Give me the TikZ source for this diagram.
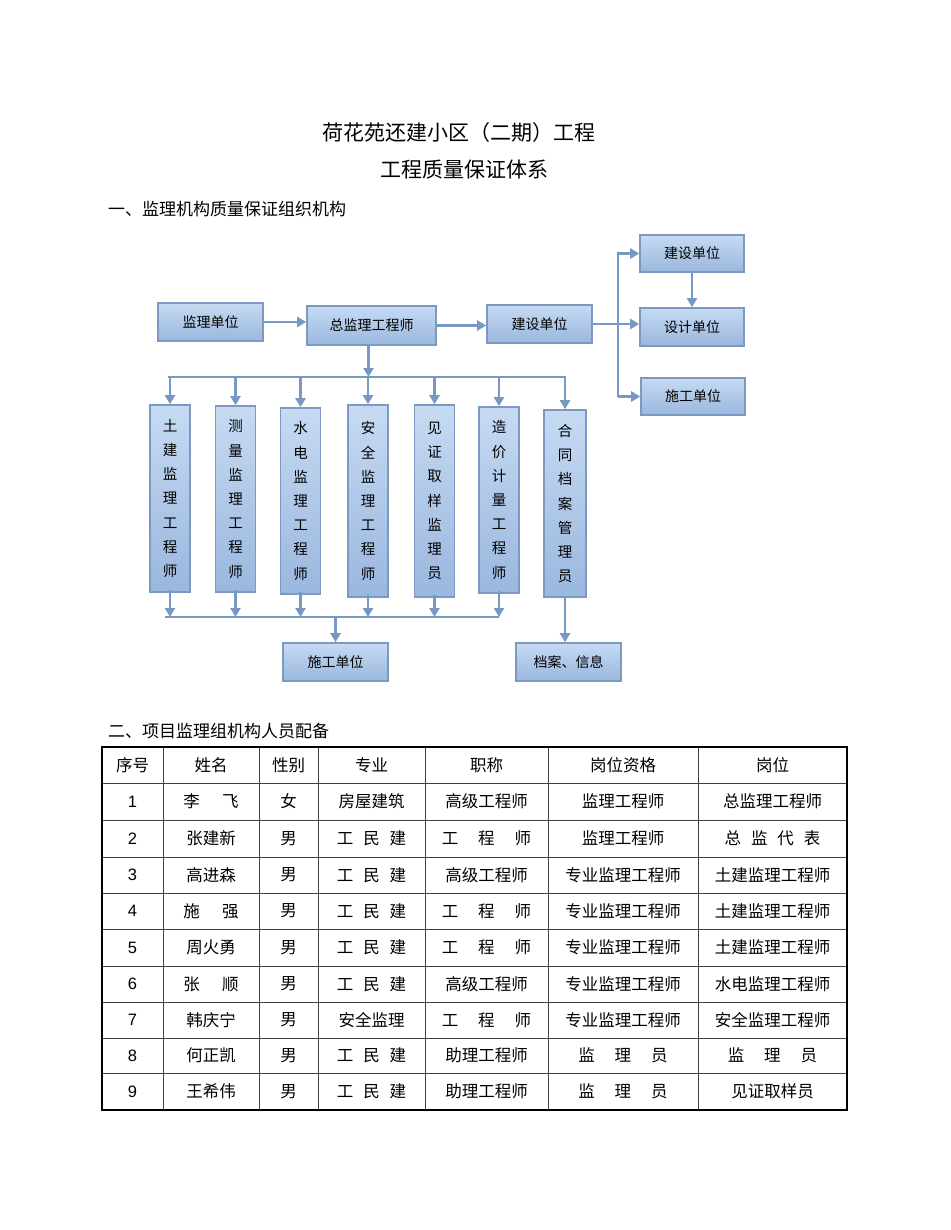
\documentclass[tikz,border=0pt]{standalone}
\usepackage{fontspec}
\setmainfont{Noto Sans CJK SC}
\newfontfamily\lsans{Liberation Sans}
\usetikzlibrary{arrows.meta}
\definecolor{lnc}{HTML}{7898C4}
\definecolor{bdc}{HTML}{7C99C2}
\definecolor{topc}{HTML}{C6DAF2}
\definecolor{botc}{HTML}{9AB7DE}
\tikzset{
  hbox/.style={draw=bdc, line width=1.6pt, top color=topc, bottom color=botc,
    font=\fontsize{14}{16}\selectfont, text=black, inner sep=0pt},
  vbox/.style={hbox, minimum width=40pt, align=center, font=\fontsize{14.5}{24.2}\selectfont},
  conn/.style={draw=lnc, line width=2.8pt},
  arr/.style={conn, -{Triangle[width=10pt,length=9pt]}},
  cell/.style={font=\fontsize{16.5}{18}\selectfont, inner sep=0pt},
  tline/.style={line width=1pt, draw=black!75},
}
\begin{document}
\begin{tikzpicture}[x=1pt,y=-1pt]
\useasboundingbox[fill=white] (0,0) rectangle (950,1230);
% titles
\node[font=\fontsize{21}{24}\selectfont] (t1) at (459,133) {荷花苑还建小区（二期）工程};
\node[font=\fontsize{21}{24}\selectfont] (t2) at (464,170) {工程质量保证体系};
\node[font=\fontsize{17}{20}\selectfont, anchor=west, inner sep=0pt] (h1) at (108,209) {一、监理机构质量保证组织机构};
\node[font=\fontsize{17}{20}\selectfont, anchor=west, inner sep=0pt] (h2) at (108,731) {二、项目监理组机构人员配备};

% horizontal boxes
\node[hbox, minimum width=105pt, minimum height=38pt] (jl) at (210.5,322) {监理单位};
\node[hbox, minimum width=129pt, minimum height=39pt] (zj) at (371.5,325.5) {总监理工程师};
\node[hbox, minimum width=105pt, minimum height=38pt] (js) at (539.5,324) {建设单位};
\node[hbox, minimum width=104pt, minimum height=37pt] (js2) at (692,253.5) {建设单位};
\node[hbox, minimum width=104pt, minimum height=38pt] (sj) at (692,327) {设计单位};
\node[hbox, minimum width=104pt, minimum height=37pt] (sg) at (693,396.5) {施工单位};
\node[hbox, minimum width=105pt, minimum height=38pt] (sg2) at (335.5,662) {施工单位};
\node[hbox, minimum width=105pt, minimum height=38pt] (da) at (568.5,662) {档案、信息};

% vertical boxes
\node[vbox, minimum height=187pt] (v1) at (170,498.5) {土\\建\\监\\理\\工\\程\\师};
\node[vbox, minimum height=186pt] (v2) at (235.5,499) {测\\量\\监\\理\\工\\程\\师};
\node[vbox, minimum height=186pt] (v3) at (300.5,501) {水\\电\\监\\理\\工\\程\\师};
\node[vbox, minimum height=192pt] (v4) at (368,501) {安\\全\\监\\理\\工\\程\\师};
\node[vbox, minimum height=192pt] (v5) at (434.5,501) {见\\证\\取\\样\\监\\理\\员};
\node[vbox, minimum height=186pt] (v6) at (499,500) {造\\价\\计\\量\\工\\程\\师};
\node[vbox, minimum width=42pt, minimum height=187pt] (v7) at (565,503.5) {合\\同\\档\\案\\管\\理\\员};

% top connectors
\draw[arr] (jl.east) -- (jl.east -| zj.west);
\draw[arr] (zj.east) -- (zj.east -| js.west);
\draw[arr] (js.east) -- (js.east -| sj.west);
\coordinate (bt) at (618,253.5);
\coordinate (bb) at (618,396.5);
\draw[arr] (bb) -- (bt) -- (js2.west);
\draw[arr] (bb) -- (sg.west);
\draw[arr] (js2.south) -- (sj.north);

% distribution bus
\coordinate (hl) at (168,377);
\coordinate (hr) at (566,377);
\draw[arr] ([xshift=-3pt]zj.south) -- ([xshift=-3pt]zj.south |- hl);
\draw[conn] (hl) -- (hr);
\foreach \v in {v1,v2,v3,v4,v5,v6,v7}{
  \draw[arr] (\v.north |- hl) -- (\v.north);
}

% collection bus
\coordinate (bl) at (165,617);
\coordinate (br) at (499,617);
\draw[conn] (bl) -- (br);
\foreach \v in {v1,v2,v3,v4,v5,v6}{
  \draw[arr] ([yshift=3pt]\v.south) -- (\v.south |- bl);
}
\draw[arr] (sg2.north |- bl) -- (sg2.north);
\draw[arr] (v7.south) -- (v7.south |- da.north);

% table
\foreach \y in {783,820,857,893,929,966,1002,1038,1073}{
  \draw[tline] (102,\y) -- (847,\y);
}
\foreach \x in {163,259,318,425,548,698}{
  \draw[tline] (\x,747) -- (\x,1110);
}
\draw[line width=2.2pt, draw=black] (102,747) rectangle (847,1110);

\newcommand{\tabrow}[8]{%
  \node[cell] (r#1a) at (132.5,#1) {#2};
  \node[cell] (r#1b) at (211,#1) {#3};
  \node[cell] (r#1c) at (288.5,#1) {#4};
  \node[cell] (r#1d) at (371.5,#1) {#5};
  \node[cell] (r#1e) at (486.5,#1) {#6};
  \node[cell] (r#1f) at (623,#1) {#7};
  \node[cell] (r#1g) at (772.5,#1) {#8};
}
\def\gA{\hspace{1.35em}}
\def\gB{\hspace{0.6em}}
\def\gC{\hspace{1.2em}}
\tabrow{765}{序号}{姓名}{性别}{专业}{职称}{岗位资格}{岗位}
\tabrow{801.5}{{\lsans 1}}{李\gA 飞}{女}{房屋建筑}{高级工程师}{监理工程师}{总监理工程师}
\tabrow{838.5}{{\lsans 2}}{张建新}{男}{工\gB 民\gB 建}{工\gC 程\gC 师}{监理工程师}{总\gB 监\gB 代\gB 表}
\tabrow{875}{{\lsans 3}}{高进森}{男}{工\gB 民\gB 建}{高级工程师}{专业监理工程师}{土建监理工程师}
\tabrow{911}{{\lsans 4}}{施\gA 强}{男}{工\gB 民\gB 建}{工\gC 程\gC 师}{专业监理工程师}{土建监理工程师}
\tabrow{947.5}{{\lsans 5}}{周火勇}{男}{工\gB 民\gB 建}{工\gC 程\gC 师}{专业监理工程师}{土建监理工程师}
\tabrow{984}{{\lsans 6}}{张\gA 顺}{男}{工\gB 民\gB 建}{高级工程师}{专业监理工程师}{水电监理工程师}
\tabrow{1020}{{\lsans 7}}{韩庆宁}{男}{安全监理}{工\gC 程\gC 师}{专业监理工程师}{安全监理工程师}
\tabrow{1055.5}{{\lsans 8}}{何正凯}{男}{工\gB 民\gB 建}{助理工程师}{监\gC 理\gC 员}{监\gC 理\gC 员}
\tabrow{1091.5}{{\lsans 9}}{王希伟}{男}{工\gB 民\gB 建}{助理工程师}{监\gC 理\gC 员}{见证取样员}
\end{tikzpicture}
\end{document}
